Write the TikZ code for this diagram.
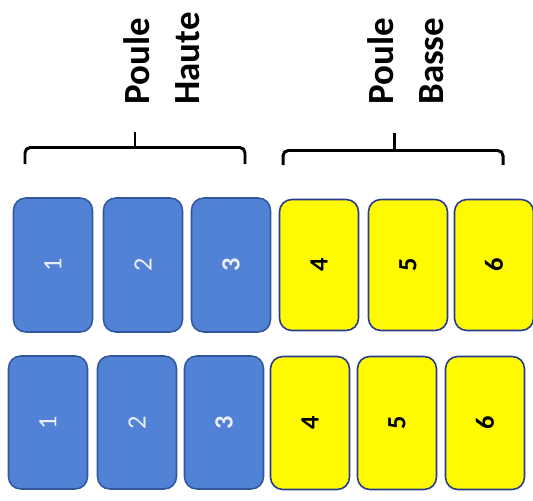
\documentclass[tikz,border=0pt]{standalone}
\usepackage{fontspec}
\setmainfont{Carlito}
\usetikzlibrary{positioning}
\definecolor{pouleblue}{RGB}{82,130,214}
\definecolor{pouleblueedge}{RGB}{52,88,160}
\definecolor{pouleyellow}{RGB}{255,250,0}
\definecolor{pouleyellowedge}{RGB}{40,60,140}
\definecolor{digitwhite}{RGB}{232,238,250}

\begin{document}
\begin{tikzpicture}[x=0.02cm, y=-0.02cm,
    haute/.style={rectangle, draw=pouleblueedge, fill=pouleblue, line width=0.9pt,
        rounded corners=7pt, minimum width=1.58cm, inner sep=0pt,
        text=digitwhite, font=\fontsize{15}{15}\selectfont},
    basse/.style={haute, fill=pouleyellow, draw=pouleyellowedge,
        text=black, font=\fontsize{15}{15}\selectfont\bfseries},
    crochet/.style={line width=1.7pt, rounded corners=3pt},
    poule/.style={rotate=90, anchor=west, align=left, inner sep=0pt,
        font=\fontsize{21}{28.4}\selectfont\bfseries}]
    \useasboundingbox (0,0) rectangle (533,500);

    % Pool labels
    \node[poule] (hautelabel) at (162,105) {Poule\\Haute};
    \node[poule] (basselabel) at (406,105) {Poule\\Basse};

    % Brackets
    \draw[crochet] (25,164) -- (25,147.5) -- (245,147.5) -- (245,164);
    \draw[crochet] (135,132) -- (135,147.5);
    \draw[crochet] (283,165) -- (283,150.5) -- (503,150.5) -- (503,165);
    \draw[crochet] (394,133) -- (394,150.5);

    % Upper pool cards, both rows
    \foreach \n/\xt/\xb/\w in {1/53/48/\mdseries, 2/143/137/\mdseries, 3/231/224/\bfseries} {
        \node[haute, minimum height=2.68cm] (t\n) at (\xt,265) {\rotatebox{90}{\w\n}};
        \node[haute, minimum height=2.66cm] (b\n) at (\xb,422.5) {\rotatebox{90}{\w\n}};
    }

    % Lower pool cards, both rows
    \foreach \n/\xt/\xb in {4/319/310, 5/408/397, 6/494/485} {
        \node[basse, minimum height=2.62cm] (t\n) at (\xt,265) {\rotatebox{90}{\n}};
        \node[basse, minimum height=2.66cm] (b\n) at (\xb,423) {\rotatebox{90}{\n}};
    }
\end{tikzpicture}
\end{document}
